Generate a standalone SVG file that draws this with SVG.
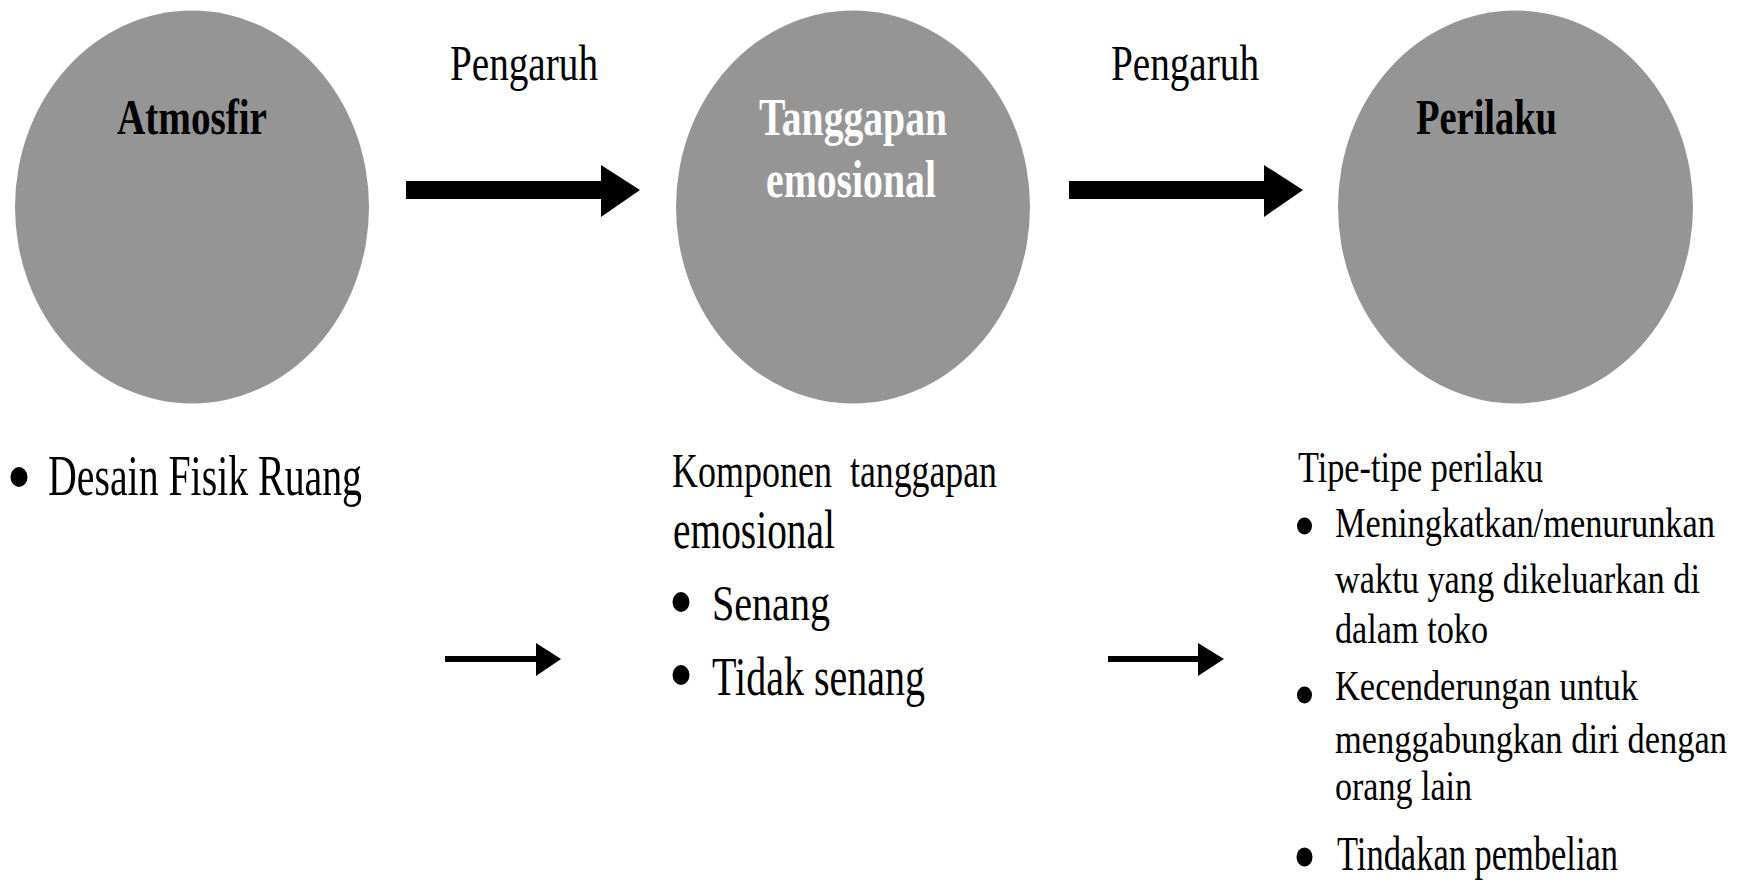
<svg xmlns="http://www.w3.org/2000/svg" width="1744" height="885" viewBox="0 0 1744 885">
<style>
.node{fill:#959595;}
.t{font-family:'Liberation Serif','DejaVu Serif',serif;fill:#000;}
.b{font-weight:bold;}
.w{fill:#fff;}
.dot{fill:#000;}
.conn{fill:#000;}
</style>
<rect width="1744" height="885" fill="#fff"/>
<g id="connectors">
  <path class="conn" d="M406,181 H601 V165 L640,190 L601,217 V199 H406 Z"/>
  <path class="conn" d="M1069,181 H1264 V165 L1303,190 L1264,217 V199 H1069 Z"/>
  <path class="conn" d="M445,656 H536 V643 L561,659 L536,676 V662 H445 Z"/>
  <path class="conn" d="M1108,656 H1198 V643 L1224,659 L1198,676 V662 H1108 Z"/>
  <text class="t" x="450" y="80" font-size="50" textLength="148" lengthAdjust="spacingAndGlyphs">Pengaruh</text>
  <text class="t" x="1111" y="80" font-size="50" textLength="148" lengthAdjust="spacingAndGlyphs">Pengaruh</text>
</g>
<g id="node-atmosfir">
  <ellipse class="node" cx="192" cy="207" rx="177" ry="196.5"/>
  <text class="t b" x="117" y="134" font-size="50" textLength="150" lengthAdjust="spacingAndGlyphs">Atmosfir</text>
</g>
<g id="node-tanggapan">
  <ellipse class="node" cx="853" cy="207" rx="177" ry="196.5"/>
  <text class="t b w" x="759" y="135" font-size="52" textLength="188" lengthAdjust="spacingAndGlyphs">Tanggapan</text>
  <text class="t b w" x="766" y="197" font-size="52" textLength="170" lengthAdjust="spacingAndGlyphs">emosional</text>
</g>
<g id="node-perilaku">
  <ellipse class="node" cx="1515.5" cy="207" rx="177.5" ry="196.5"/>
  <text class="t b" x="1416" y="134" font-size="50" textLength="141" lengthAdjust="spacingAndGlyphs">Perilaku</text>
</g>
<g id="list-atmosfir">
  <ellipse class="dot" cx="19" cy="477" rx="8.5" ry="10"/>
  <text class="t" x="48" y="495" font-size="58" textLength="314" lengthAdjust="spacingAndGlyphs">Desain Fisik Ruang</text>
</g>
<g id="list-tanggapan">
  <text class="t" y="487" font-size="48"><tspan x="672" textLength="160" lengthAdjust="spacingAndGlyphs">Komponen</tspan><tspan x="850" textLength="147" lengthAdjust="spacingAndGlyphs">tanggapan</tspan></text>
  <text class="t" x="673" y="548" font-size="54" textLength="162" lengthAdjust="spacingAndGlyphs">emosional</text>
  <ellipse class="dot" cx="681" cy="602" rx="8.5" ry="10"/>
  <text class="t" x="712" y="620" font-size="50" textLength="118" lengthAdjust="spacingAndGlyphs">Senang</text>
  <ellipse class="dot" cx="681" cy="675" rx="8.5" ry="10"/>
  <text class="t" x="712" y="695" font-size="54" textLength="213" lengthAdjust="spacingAndGlyphs">Tidak senang</text>
</g>
<g id="list-perilaku">
  <text class="t" x="1298" y="482" font-size="44" textLength="245" lengthAdjust="spacingAndGlyphs">Tipe-tipe perilaku</text>
  <ellipse class="dot" cx="1304.5" cy="526" rx="7.5" ry="8.5"/>
  <text class="t" x="1335" y="537" font-size="42" textLength="380" lengthAdjust="spacingAndGlyphs">Meningkatkan/menurunkan</text>
  <text class="t" x="1335" y="593" font-size="42" textLength="365" lengthAdjust="spacingAndGlyphs">waktu yang dikeluarkan di</text>
  <text class="t" x="1335" y="643" font-size="42" textLength="153" lengthAdjust="spacingAndGlyphs">dalam toko</text>
  <ellipse class="dot" cx="1304.5" cy="695" rx="7.5" ry="8.5"/>
  <text class="t" x="1335" y="700" font-size="42" textLength="303" lengthAdjust="spacingAndGlyphs">Kecenderungan untuk</text>
  <text class="t" x="1335" y="753" font-size="42" textLength="392" lengthAdjust="spacingAndGlyphs">menggabungkan diri dengan</text>
  <text class="t" x="1335" y="800" font-size="42" textLength="137" lengthAdjust="spacingAndGlyphs">orang lain</text>
  <ellipse class="dot" cx="1304.5" cy="857" rx="8" ry="9.5"/>
  <text class="t" x="1337" y="870" font-size="48" textLength="281" lengthAdjust="spacingAndGlyphs">Tindakan pembelian</text>
</g>
</svg>
